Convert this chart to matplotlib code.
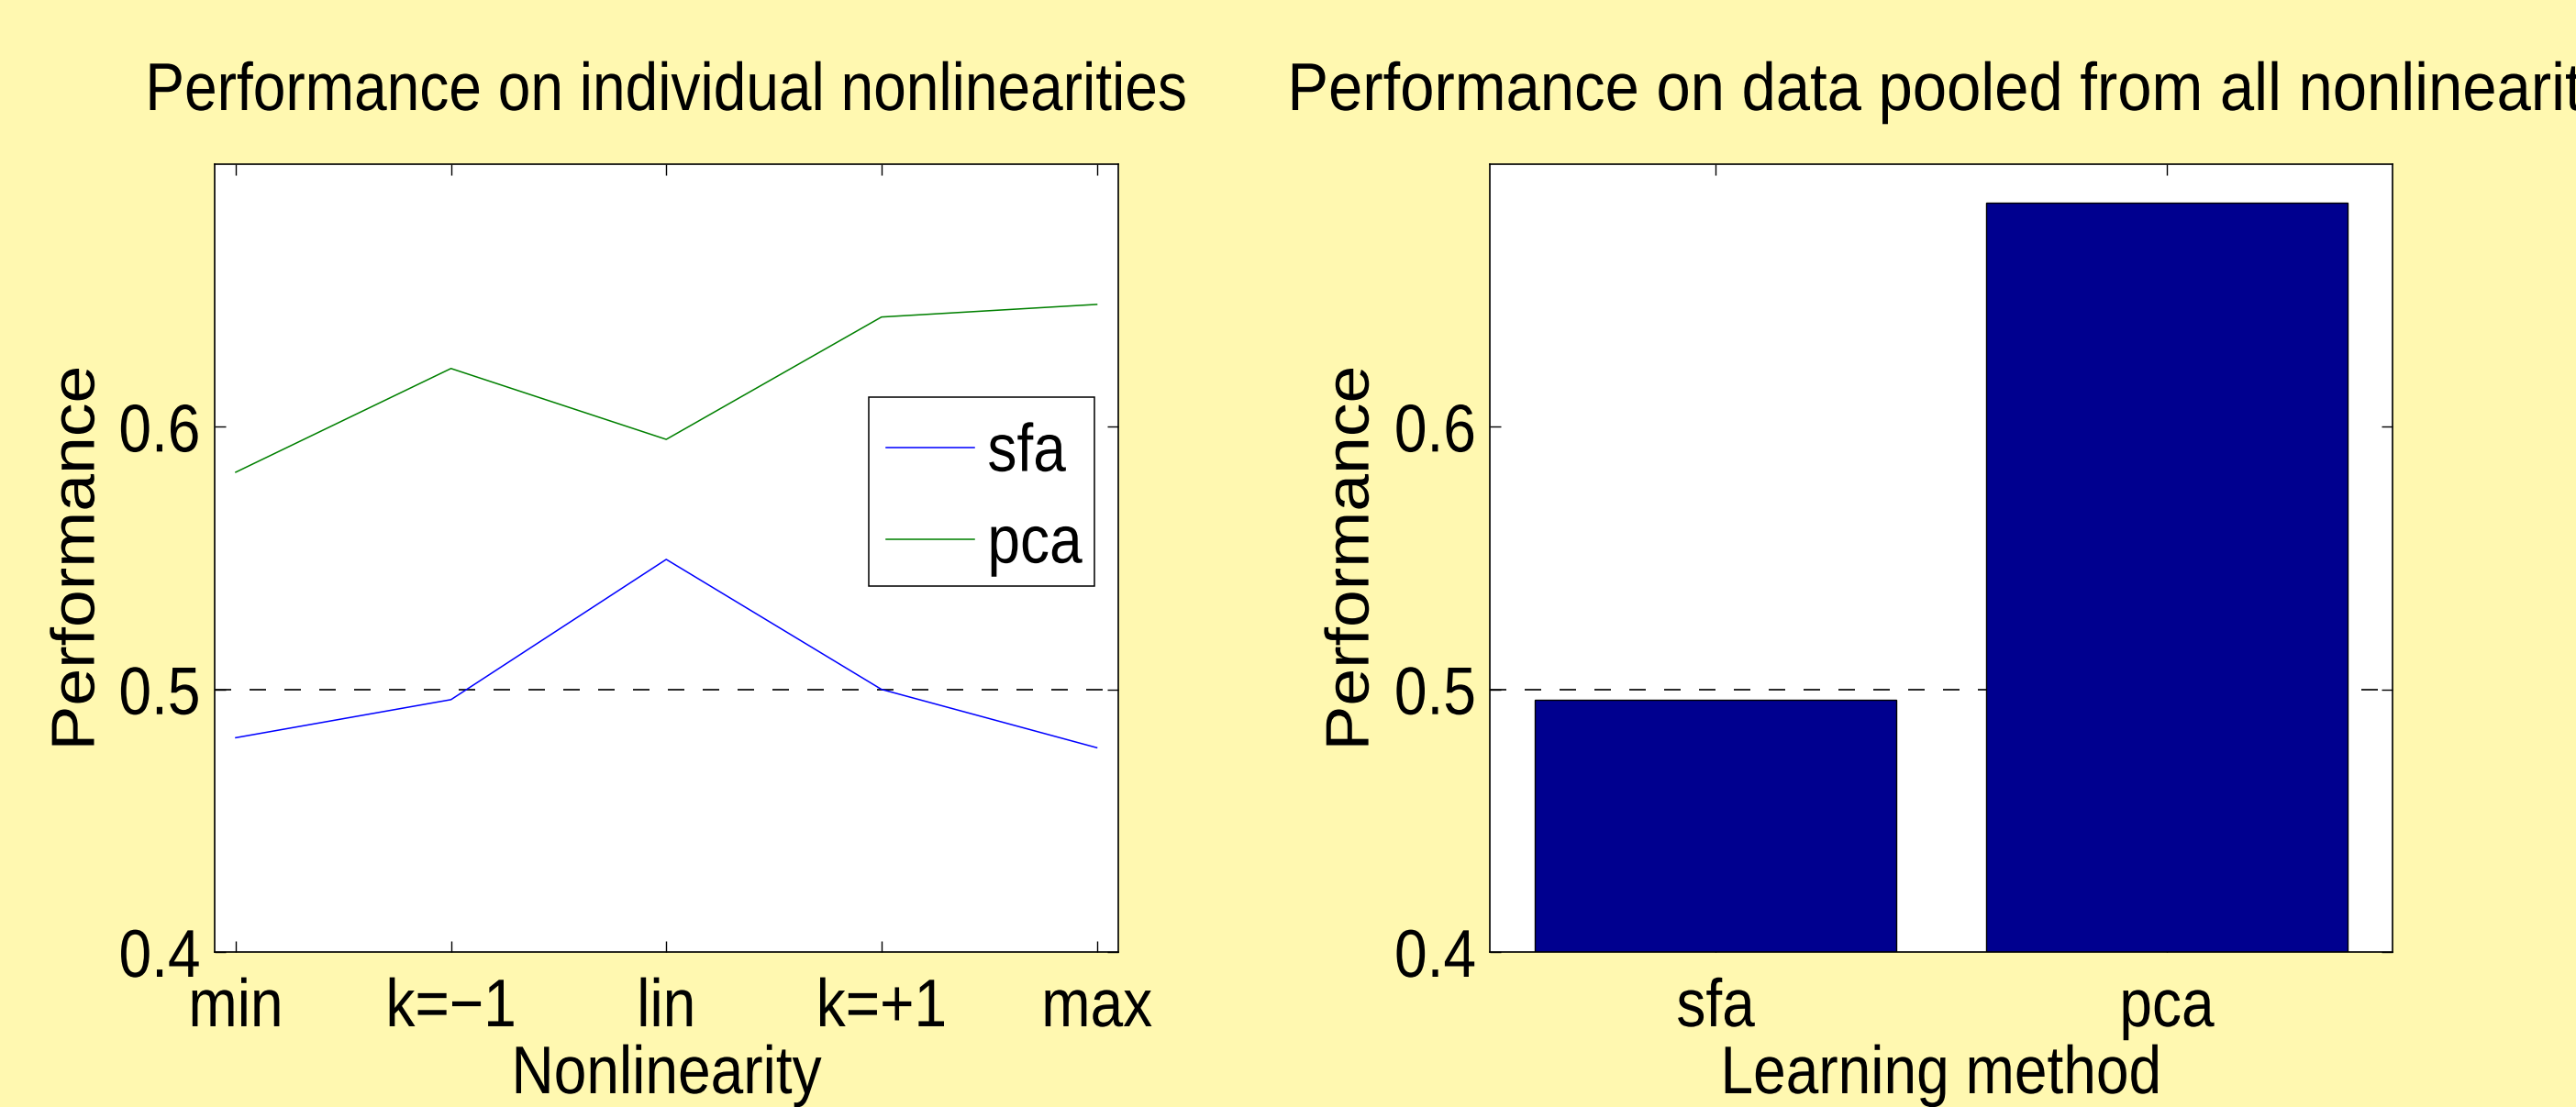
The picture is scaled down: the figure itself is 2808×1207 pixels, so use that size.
import matplotlib
matplotlib.use("Agg")
import numpy as np
import matplotlib.pyplot as plt
from matplotlib.patheffects import AbstractPathEffect
from matplotlib.transforms import Affine2D
from matplotlib.path import Path
from matplotlib.patches import Rectangle

# ---------------- data ----------------
nonlinearities = ["min", "k=\u22121", "lin", "k=+1", "max"]
sfa_perf = [0.4816, 0.4961, 0.5495, 0.5000, 0.4778]
pca_perf = [0.5827, 0.6222, 0.5952, 0.6418, 0.6466]

methods = ["sfa", "pca"]
pooled_perf = [0.4962, 0.6854]

yticks = [0.4, 0.5, 0.6]
chance_level = 0.5


# ------------- horizontal glyph scaling (text stays real text) -------------
class Condense(AbstractPathEffect):
    def __init__(self, sx=0.87, anchor="center"):
        super().__init__()
        self.sx = sx
        self.anchor = anchor

    def draw_path(self, renderer, gc, tpath, affine, rgbFace=None):
        v = tpath.vertices
        codes = tpath.codes
        if codes is not None:
            v = v[codes != Path.CLOSEPOLY]
        if len(v) == 0:
            cx = 0.0
        elif self.anchor == "left":
            cx = 0.0
        elif self.anchor == "right":
            cx = float(np.max(v[:, 0]))
        else:
            cx = 0.5 * (float(np.min(v[:, 0])) + float(np.max(v[:, 0])))
        a = Affine2D().translate(-cx, 0).scale(self.sx, 1.0).translate(cx, 0) + affine
        renderer.draw_path(gc, tpath, a, rgbFace)


FAMILY = ["Liberation Sans", "DejaVu Sans"]
FS = 53
SX = 0.87
plt.rcParams["font.family"] = FAMILY
plt.rcParams["font.size"] = FS

DPI = 100
fs_px = FS * DPI / 72.0
PX = 72.0 / DPI  # px -> pt

BG = "#FFF8B0"
BAR = "#00008F"

fig = plt.figure(figsize=(28.08, 12.07), dpi=DPI, facecolor=BG)

W, H = 2808.0, 1207.0
top_px, bot_px = 179.0, 1038.0
axL = fig.add_axes([233.5 / W, (H - bot_px) / H, (1219 - 233.5) / W, (bot_px - top_px) / H])
axR = fig.add_axes([1624 / W, (H - bot_px) / H, (2607.7 - 1624) / W, (bot_px - top_px) / H])

xpad = ((1118.7 - 0.73 * fs_px) - bot_px) * PX

for ax in (axL, axR):
    ax.set_facecolor("white")
    for s in ax.spines.values():
        s.set_linewidth(1.2)
        s.set_color("black")
    ax.tick_params(direction="in", length=12 * PX, width=1.0, top=True, right=True,
                   labelsize=FS, colors="black")
    ax.tick_params(axis="x", pad=xpad)
    ax.tick_params(axis="y", pad=14.5 * PX)
    ax.set_ylim(0.4, 0.7)
    ax.set_yticks(yticks)
    ax.set_yticklabels([f"{v:.1f}" for v in yticks])
    ax.axhline(chance_level, color="black", lw=1.2, ls=(0, (10.8, 12)), zorder=1)

# ---- left: lines ----
xs = list(range(1, len(nonlinearities) + 1))
axL.plot(xs, sfa_perf, color="#0000FF", lw=1.1, label="sfa", zorder=3)
axL.plot(xs, pca_perf, color="#008000", lw=1.1, label="pca", zorder=3)
axL.set_xlim(0.9, 5.1)
axL.set_xticks(xs)
axL.set_xticklabels(nonlinearities)
axL.set_xlabel("Nonlinearity", labelpad=4 * PX)
axL.set_ylabel("Performance", labelpad=0, fontsize=48)
tL = axL.set_title("Performance on individual nonlinearities", pad=59 * PX, fontsize=FS)
tL.set_path_effects([Condense(SX, "center")])

# legend frame drawn as a plain rectangle, entries from the library's legend
axL.add_patch(Rectangle((0.7236, 0.4648), 0.9733 - 0.7236, 0.7047 - 0.4648,
                        transform=axL.transAxes, facecolor="white", edgecolor="black",
                        linewidth=1.1, zorder=4))
leg = axL.legend(loc="upper left", bbox_to_anchor=(0.7246, 0.6948), borderaxespad=0,
                 fontsize=FS, frameon=False, borderpad=0.25, labelspacing=0.42,
                 handlelength=1.30, handletextpad=0.2)
leg.set_zorder(5)
for t in leg.get_texts():
    t.set_path_effects([Condense(SX, "left")])

# ---- right: bars ----
xb = [1, 2]
axR.bar(xb, pooled_perf, width=0.8, color=BAR, edgecolor="black", linewidth=1.0, zorder=2)
axR.set_xlim(0.5, 2.5)
axR.set_xticks(xb)
axR.set_xticklabels(methods)
axR.set_xlabel("Learning method", labelpad=4 * PX)
axR.set_ylabel("Performance", labelpad=1, fontsize=48)
tR = axR.set_title("Performance on data pooled from all nonlinearities", pad=59 * PX,
                   fontsize=FS, x=0.537)
tR.set_path_effects([Condense(0.91, "center")])

for ax in (axL, axR):
    for t in ax.get_xticklabels():
        t.set_path_effects([Condense(SX, "center")])
    for t in ax.get_yticklabels():
        t.set_path_effects([Condense(SX, "right")])
    ax.xaxis.label.set_path_effects([Condense(SX, "center")])
    ax.yaxis.label.set_path_effects([Condense(1.1, "center")])

fig.savefig("out.png", dpi=DPI, facecolor=BG)
